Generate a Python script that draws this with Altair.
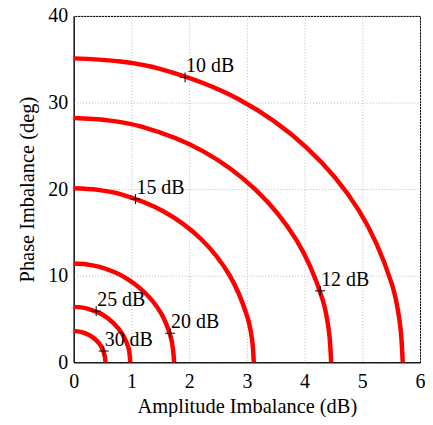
import altair as alt
import pandas as pd

# Contour labels
curve_labels = ["10 dB", "12 dB", "15 dB", "20 dB", "25 dB", "30 dB"]

# Points (amplitude dB, phase deg)
curve_x = {
    "10 dB": [5.70, 5.65, 5.51, 4.94, 4.03, 2.85, 1.48, 0.75, 0.0],
    "12 dB": [4.46, 4.42, 4.31, 3.86, 3.15, 2.23, 1.16, 0.58, 0.0],
    "15 dB": [3.12, 3.09, 3.01, 2.70, 2.21, 1.56, 0.81, 0.41, 0.0],
    "20 dB": [1.74, 1.72, 1.68, 1.51, 1.23, 0.87, 0.45, 0.23, 0.0],
    "25 dB": [0.98, 0.97, 0.95, 0.85, 0.69, 0.49, 0.25, 0.13, 0.0],
    "30 dB": [0.55, 0.545, 0.53, 0.48, 0.39, 0.275, 0.14, 0.07, 0.0],
}
curve_y = {
    "10 dB": [0.0, 4.60, 9.09, 17.55, 24.82, 30.40, 33.91, 34.78, 35.1],
    "12 dB": [0.0, 3.69, 7.30, 14.10, 19.94, 24.42, 27.24, 27.95, 28.2],
    "15 dB": [0.0, 2.63, 5.21, 10.05, 14.21, 17.41, 19.42, 19.92, 20.1],
    "20 dB": [0.0, 1.49, 2.95, 5.70, 8.06, 9.87, 11.01, 11.30, 11.4],
    "25 dB": [0.0, 0.84, 1.66, 3.20, 4.52, 5.54, 6.18, 6.34, 6.4],
    "30 dB": [0.0, 0.47, 0.93, 1.80, 2.55, 3.12, 3.48, 3.57, 3.6],
}

# Marker ("+") positions for the labels
marker_x = [1.93, 4.27, 1.07, 1.67, 0.39, 0.52]
marker_y = [32.9, 8.25, 18.85, 3.35, 5.9, 1.3]

x_ticks = [0, 1, 2, 3, 4, 5, 6]
y_ticks = [0, 10, 20, 30, 40]

rows = []
for lab in curve_labels:
    for i, (xv, yv) in enumerate(zip(curve_x[lab], curve_y[lab])):
        rows.append({"curve": lab, "amp": xv, "phase": yv, "order": i})
curves_df = pd.DataFrame(rows)
markers_df = pd.DataFrame({"label": curve_labels, "amp": marker_x, "phase": marker_y})

FONT = "Liberation Serif"

x_enc = alt.X("amp:Q", scale=alt.Scale(domain=[0, 6], nice=False),
              axis=alt.Axis(values=x_ticks, title="Amplitude Imbalance (dB)", format="d",
                            labelPadding=9, labelFlush=False,
                            titleY=50, titleBaseline="alphabetic"))
y_enc = alt.Y("phase:Q", scale=alt.Scale(domain=[0, 40], nice=False),
              axis=alt.Axis(values=y_ticks, title="Phase Imbalance (deg)", format="d",
                            labelPadding=6, labelFlush=False, titlePadding=10))

lines = alt.Chart(curves_df).mark_line(
    color="#ff0000", strokeWidth=4.5, interpolate="catmull-rom", strokeCap="butt"
).encode(x=x_enc, y=y_enc, detail="curve:N", order="order:Q")

pluses = alt.Chart(markers_df).mark_point(
    shape="M-1,0L1,0M0,-1L0,1", size=100, stroke="black", strokeWidth=1, filled=False, opacity=1
).encode(x="amp:Q", y="phase:Q")

labels = alt.Chart(markers_df).mark_text(
    align="left", baseline="alphabetic", dx=1, dy=-5, font=FONT, fontSize=20, color="black"
).encode(x="amp:Q", y="phase:Q", text="label:N")

chart = alt.layer(lines, pluses, labels).properties(
    width=348, height=348,
    autosize=alt.AutoSizeParams(type="none"),
    padding={"left": 66, "top": 7, "right": 5, "bottom": 54},
    background="white",
).configure_view(
    stroke="black", strokeWidth=1
).configure_axis(
    labelFont=FONT, labelFontSize=20, labelColor="black",
    titleFont=FONT, titleFontSize=20.5, titleFontWeight="normal", titleColor="black",
    domainColor="black", domainWidth=1, ticks=False,
    grid=True, gridColor="#b8b8b8", gridDash=[1, 2], gridWidth=1,
)

chart.save("out.html", embed_options={"renderer": "svg", "actions": False})
